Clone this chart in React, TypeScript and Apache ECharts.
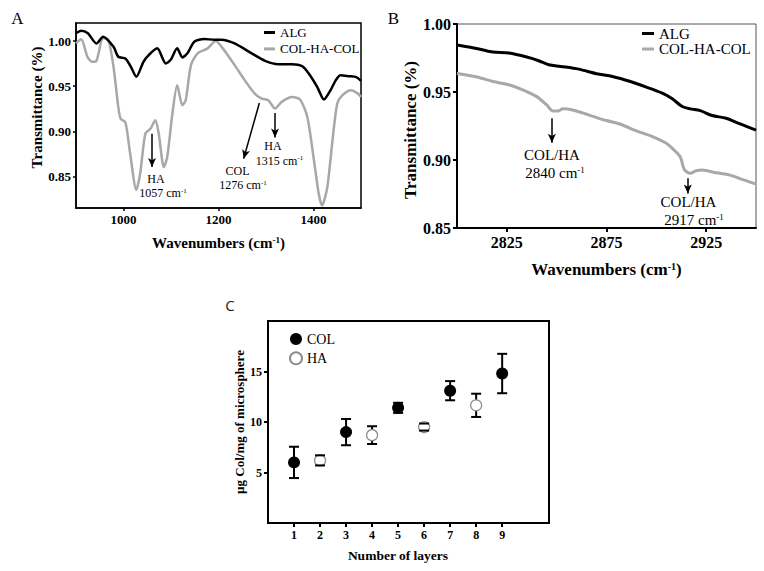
import React, { useEffect, useRef } from "react";
import * as echarts from "echarts";

// ---------- Panel A data (900–1500 cm-1) ----------
const algA_wn = [900, 911, 925, 943, 957, 979, 989, 1004, 1015, 1027, 1042, 1053, 1071, 1089, 1099, 1113, 1124, 1135, 1149, 1170, 1191, 1206, 1234, 1270, 1298, 1326, 1355, 1376, 1390, 1408, 1422, 1436, 1447, 1457, 1475, 1490, 1500];
const algA_t = [1.0086, 1.0115, 1.0086, 0.9974, 1.0048, 0.9937, 0.9826, 0.9807, 0.972, 0.9604, 0.977, 0.9844, 0.9919, 0.9752, 0.9789, 0.9919, 0.9819, 0.9867, 0.9993, 1.0022, 1.0015, 1.0015, 0.9974, 0.9863, 0.9781, 0.9744, 0.9744, 0.9722, 0.964, 0.949, 0.9352, 0.9456, 0.9567, 0.9622, 0.9611, 0.96, 0.9559];
const chcA_wn = [900, 911, 924, 934, 943, 957, 968, 979, 989, 994, 1004, 1014, 1027, 1035, 1046, 1057, 1067, 1074, 1085, 1092, 1103, 1113, 1124, 1131, 1142, 1156, 1177, 1194, 1209, 1234, 1255, 1276, 1291, 1305, 1319, 1333, 1355, 1372, 1387, 1401, 1411, 1418, 1429, 1440, 1450, 1461, 1479, 1493, 1500];
const chcA_t = [0.9974, 1.0019, 0.9826, 0.977, 0.978, 1.003, 1.0015, 0.9715, 0.927, 0.914, 0.91, 0.8752, 0.8352, 0.853, 0.8974, 0.903, 0.9122, 0.898, 0.8603, 0.8714, 0.9197, 0.9511, 0.9289, 0.9344, 0.9733, 0.9863, 0.9919, 1.0, 0.9919, 0.9733, 0.9567, 0.9419, 0.9363, 0.9344, 0.9252, 0.9326, 0.938, 0.935, 0.9159, 0.8678, 0.8308, 0.8178, 0.838, 0.89, 0.9307, 0.94, 0.9456, 0.942, 0.938];
const ticksA_x = [1000, 1200, 1400];
const ticksA_y = [0.85, 0.9, 0.95, 1.0];

// ---------- Panel B data (2800–2950 cm-1) ----------
const algB_wn = [2800, 2811, 2818, 2826, 2835, 2841, 2846, 2852, 2861, 2870, 2878, 2887, 2895, 2903, 2908, 2913, 2917, 2922, 2928, 2935, 2942, 2950];
const algB_t = [0.9845, 0.9816, 0.9794, 0.9786, 0.9757, 0.973, 0.97, 0.9688, 0.9668, 0.9634, 0.9614, 0.9577, 0.9536, 0.9491, 0.945, 0.9393, 0.9376, 0.9363, 0.9327, 0.9307, 0.9265, 0.922];
const chcB_wn = [2800, 2810, 2818, 2826, 2833, 2840, 2845, 2848, 2851, 2853, 2858, 2866, 2875, 2882, 2890, 2898, 2905, 2908, 2912, 2914, 2917, 2920, 2923, 2930, 2937, 2943, 2950];
const chcB_t = [0.9636, 0.961, 0.9577, 0.9553, 0.9516, 0.9466, 0.9405, 0.9361, 0.936, 0.9376, 0.9368, 0.9332, 0.929, 0.9263, 0.9214, 0.9172, 0.9123, 0.9086, 0.9024, 0.8931, 0.8902, 0.8921, 0.8926, 0.8906, 0.8889, 0.8858, 0.8823];
const ticksB_x = [2825, 2875, 2925];
const ticksB_y = [0.85, 0.9, 0.95, 1.0];

// ---------- Panel C data ----------
const colLayers = [1, 3, 5, 7, 9];
const colMeans = [6.0, 9.0, 11.4, 13.1, 14.8];
const colErr = [1.55, 1.3, 0.5, 0.95, 1.95];
const haLayers = [2, 4, 6, 8];
const haMeans = [6.2, 8.7, 9.5, 11.65];
const haErr = [0.5, 0.88, 0.35, 1.15];
const ticksC_x = [1, 2, 3, 4, 5, 6, 7, 8, 9];
const ticksC_y = [5, 10, 15];

const SERIF = "'Liberation Serif', 'Times New Roman', serif";
const zip = (a: number[], b: number[]) => a.map((v, i) => [v, b[i]]);

function errBars(xs: number[], m: number[], e: number[]) {
  return xs.map((x, i) => [x, m[i] - e[i], m[i] + e[i]]);
}

export default function App() {
  const ref = useRef<HTMLDivElement>(null);
  useEffect(() => {
    if (!ref.current) return;
    const chart = echarts.init(ref.current, undefined, { renderer: "svg" });
    const axisTitle = (size: number, extra: any = {}) => ({
      fontFamily: SERIF,
      fontWeight: "bold",
      fontSize: size,
      color: "#000",
      rich: { sup: { fontFamily: SERIF, fontWeight: "bold", fontSize: Math.round(size * 0.6), verticalAlign: "top", color: "#000" } },
      ...extra,
    });
    const plain = (v: number) => String(v);
    const lbl = (size: number, margin: number, vals: number[], fmt: any = plain) => ({
      customValues: vals,
      fontFamily: SERIF,
      fontWeight: "bold",
      fontSize: size,
      color: "#000",
      margin,
      formatter: fmt,
    });
    const tick = (vals: number[], len: number, w: number) => ({ show: true, customValues: vals, length: len, lineStyle: { color: "#000", width: w } });
    const line = (w: number) => ({ show: true, onZero: false, lineStyle: { color: "#000", width: w } });
    const f2 = (v: number) => v.toFixed(2);

    const st = { stroke: "#000", lineWidth: 2 };
    const stemRender = (params: any, api: any) => {
      const x = api.value(0);
      const lo = api.coord([x, api.value(1)]);
      const hi = api.coord([x, api.value(2)]);
      return { type: "line", shape: { x1: hi[0], y1: hi[1], x2: lo[0], y2: lo[1] }, style: st };
    };
    const capRender = (params: any, api: any) => {
      const x = api.value(0);
      const lo = api.coord([x, api.value(1)]);
      const hi = api.coord([x, api.value(2)]);
      const cw = 5;
      return {
        type: "group",
        children: [
          { type: "line", shape: { x1: hi[0] - cw, y1: hi[1], x2: hi[0] + cw, y2: hi[1] }, style: st },
          { type: "line", shape: { x1: lo[0] - cw, y1: lo[1], x2: lo[0] + cw, y2: lo[1] }, style: st },
        ],
      };
    };

    const annText = (x: number, y: number, text: string, size: number) => ({
      type: "text",
      x,
      y,
      style: {
        text,
        fontFamily: SERIF,
        fontSize: size,
        fill: "#000",
        align: "center",
        verticalAlign: "middle",
        rich: { s: { fontFamily: SERIF, fontSize: Math.round(size * 0.62), verticalAlign: "top", fill: "#000" } },
      },
    });

    const arrowLine = (pts: number[][][]) => ({
      silent: true,
      symbol: ["none", "arrow"],
      symbolSize: [6, 9],
      lineStyle: { color: "#000", width: 1.5, type: "solid" },
      label: { show: false },
      emphasis: { disabled: true },
      data: pts.map((p) => [{ coord: p[0] }, { coord: p[1] }]),
    });

    const colBars = errBars(colLayers, colMeans, colErr);
    const haBars = errBars(haLayers, haMeans, haErr);

    chart.setOption({
      animation: false,
      backgroundColor: "#fff",
      grid: [
        { left: 76, top: 23, width: 285, height: 185, show: true, borderColor: "#000", borderWidth: 1.5, containLabel: false },
        { left: 457, top: 24, width: 299, height: 204, show: true, borderColor: "#555", borderWidth: 1, containLabel: false },
        { left: 268, top: 321, width: 281, height: 202, show: true, borderColor: "#000", borderWidth: 2, containLabel: false },
      ],
      xAxis: [
        {
          gridIndex: 0, type: "value", min: 900, max: 1500,
          axisLine: line(1.5), axisTick: tick(ticksA_x, 3, 1.5), axisLabel: lbl(13, 5, ticksA_x), splitLine: { show: false },
          name: "Wavenumbers (cm{sup|-1})", nameLocation: "middle", nameGap: 27, nameTextStyle: axisTitle(15),
        },
        {
          gridIndex: 1, type: "value", min: 2800, max: 2950,
          axisLine: line(2), axisTick: tick(ticksB_x, 4, 2), axisLabel: lbl(16, 6, ticksB_x), splitLine: { show: false },
          name: "Wavenumbers (cm{sup|-1})", nameLocation: "middle", nameGap: 33, nameTextStyle: axisTitle(17),
        },
        {
          gridIndex: 2, type: "value", min: 0, max: 10.8,
          axisLine: line(2), axisTick: tick(ticksC_x, 4, 2), axisLabel: lbl(12, 6, ticksC_x), splitLine: { show: false },
          name: "Number of layers", nameLocation: "middle", nameGap: 25, nameTextStyle: axisTitle(13.5, { padding: [0, 21, 0, 0] }),
        },
      ],
      yAxis: [
        {
          gridIndex: 0, type: "value", min: 0.815, max: 1.02,
          axisLine: line(1.5), axisTick: tick(ticksA_y, 3, 1.5), axisLabel: lbl(13, 5, ticksA_y, f2), splitLine: { show: false },
          name: "Transmittance (%)", nameLocation: "middle", nameGap: 31, nameTextStyle: axisTitle(15, { padding: [0, 0, 0, 16] }),
        },
        {
          gridIndex: 1, type: "value", min: 0.85, max: 1.0,
          axisLine: line(2), axisTick: tick(ticksB_y, 4, 2), axisLabel: lbl(16, 6, ticksB_y, f2), splitLine: { show: false },
          name: "Transmittance (%)", nameLocation: "middle", nameGap: 36, nameTextStyle: axisTitle(17, { padding: [0, 8, 0, 0] }),
        },
        {
          gridIndex: 2, type: "value", min: 0, max: 20,
          axisLine: line(2), axisTick: tick(ticksC_y, 4, 2), axisLabel: lbl(12, 6, ticksC_y), splitLine: { show: false },
          name: "µg Col/mg of microsphere", nameLocation: "middle", nameGap: 19, nameTextStyle: axisTitle(13),
        },
      ],
      legend: [
        {
          data: ["ALG", "COL-HA-COL"], left: 264, top: 26, orient: "vertical", icon: "rect",
          itemWidth: 11, itemHeight: 3, itemGap: 3.4, padding: 0, selectedMode: false,
          textStyle: { fontFamily: SERIF, fontSize: 13, color: "#000" },
        },
        {
          data: ["ALG", "COL-HA-COL"], left: 642, top: 26, orient: "vertical", icon: "rect",
          itemWidth: 12, itemHeight: 3, itemGap: 0.5, padding: 0, selectedMode: false,
          textStyle: { fontFamily: SERIF, fontSize: 15, color: "#000" },
        },
        {
          data: ["COL", "HA"], left: 289, top: 332, orient: "vertical", icon: "circle",
          itemWidth: 12, itemHeight: 12, itemGap: 5.3, padding: 0, selectedMode: false,
          textStyle: { fontFamily: SERIF, fontSize: 14, color: "#000" },
        },
      ],
      series: [
        {
          name: "COL-HA-COL", type: "line", xAxisIndex: 0, yAxisIndex: 0, data: zip(chcA_wn, chcA_t),
          showSymbol: false, smooth: 0.25, color: "#a8a8a8", lineStyle: { color: "#a8a8a8", width: 2.5 }, z: 2,
          markLine: arrowLine([
            [[1060, 0.8974], [1060, 0.8603]],
            [[1286, 0.9314], [1253, 0.8697]],
            [[1319, 0.9203], [1319, 0.893]],
          ]),
        },
        {
          name: "ALG", type: "line", xAxisIndex: 0, yAxisIndex: 0, data: zip(algA_wn, algA_t),
          showSymbol: false, smooth: 0.25, color: "#000", lineStyle: { color: "#000", width: 2.5 }, z: 3,
        },
        {
          name: "COL-HA-COL", type: "line", xAxisIndex: 1, yAxisIndex: 1, data: zip(chcB_wn, chcB_t),
          showSymbol: false, smooth: 0.3, color: "#a8a8a8", lineStyle: { color: "#a8a8a8", width: 3 }, z: 2,
          markLine: arrowLine([
            [[2847.6, 0.9307], [2847.6, 0.9127]],
            [[2915.8, 0.8865], [2915.8, 0.8754]],
          ]),
        },
        {
          name: "ALG", type: "line", xAxisIndex: 1, yAxisIndex: 1, data: zip(algB_wn, algB_t),
          showSymbol: false, smooth: 0.3, color: "#000", lineStyle: { color: "#000", width: 3 }, z: 3,
        },
        { name: "COL stem", type: "custom", xAxisIndex: 2, yAxisIndex: 2, renderItem: stemRender, data: colBars, z: 2, silent: true },
        { name: "HA stem", type: "custom", xAxisIndex: 2, yAxisIndex: 2, renderItem: stemRender, data: haBars, z: 2, silent: true },
        {
          name: "COL", type: "scatter", xAxisIndex: 2, yAxisIndex: 2, data: zip(colLayers, colMeans),
          symbol: "circle", symbolSize: 12, itemStyle: { color: "#000", opacity: 1 }, z: 4,
        },
        {
          name: "HA", type: "scatter", xAxisIndex: 2, yAxisIndex: 2, data: zip(haLayers, haMeans),
          symbol: "circle", symbolSize: 11, itemStyle: { color: "#fff", borderColor: "#8c8c8c", borderWidth: 1.2, opacity: 1 }, z: 4,
        },
        { name: "COL cap", type: "custom", xAxisIndex: 2, yAxisIndex: 2, renderItem: capRender, data: colBars, z: 5, silent: true },
        { name: "HA cap", type: "custom", xAxisIndex: 2, yAxisIndex: 2, renderItem: capRender, data: haBars, z: 5, silent: true },
      ],
      graphic: [
        { type: "text", x: 17.5, y: 18.5, style: { text: "A", fontFamily: SERIF, fontSize: 17, fill: "#000", align: "center", verticalAlign: "middle" } },
        { type: "text", x: 393.5, y: 18, style: { text: "B", fontFamily: SERIF, fontSize: 17, fill: "#000", align: "center", verticalAlign: "middle" } },
        { type: "text", x: 230, y: 305, style: { text: "C", fontFamily: "'Open Sans', sans-serif", fontSize: 15, fill: "#222", align: "center", verticalAlign: "middle" } },
        annText(156, 179, "HA", 12),
        annText(163, 193, "1057 cm{s|-1}", 12),
        annText(237.5, 171, "COL", 12),
        annText(243, 185, "1276 cm{s|-1}", 12),
        annText(273, 146, "HA", 12),
        annText(279.5, 160.5, "1315 cm{s|-1}", 12),
        annText(552, 154.5, "COL/HA", 15),
        annText(555, 173, "2840 cm{s|-1}", 15),
        annText(688.5, 201.5, "COL/HA", 15),
        annText(694, 220, "2917 cm{s|-1}", 15),
      ],
    });
    return () => chart.dispose();
  }, []);
  return <div ref={ref} style={{ position: "absolute", left: 0, top: 0, width: 764, height: 571 }} />;
}
